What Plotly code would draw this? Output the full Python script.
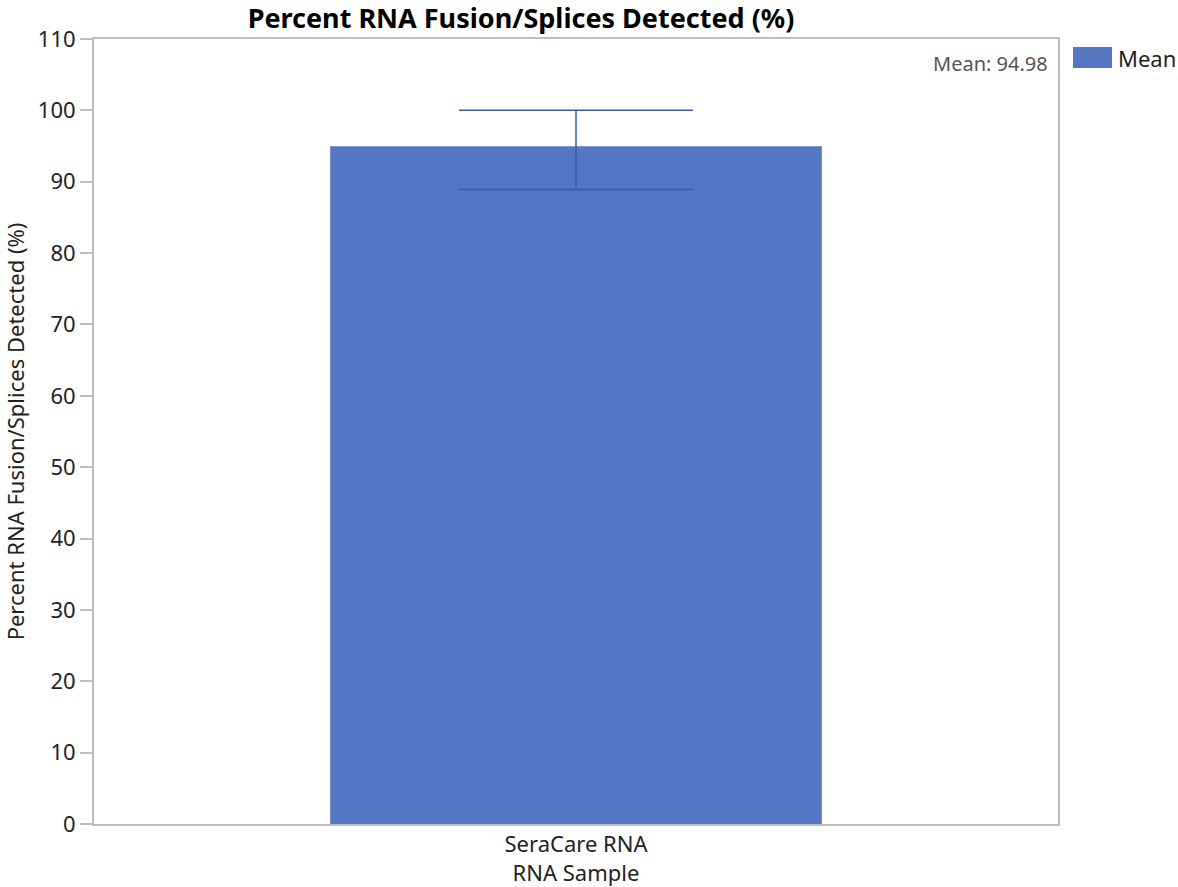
import plotly.graph_objects as go

categories = ["SeraCare RNA"]
means = [94.98]
upper = [100.0]
lower = [88.9]
series_name = "Mean"
y_ticks = [0, 10, 20, 30, 40, 50, 60, 70, 80, 90, 100, 110]

err_plus = [u - m for u, m in zip(upper, means)]
err_minus = [m - l for m, l in zip(means, lower)]

FONT = "Noto Sans"
BAR = "#5577C3"
ERR = "#3E58A6"
GRID = "#BDBDBD"
TXT = "#222222"

W, H = 1178, 887
L, T, PW, PH = 94, 39, 964, 785

fig = go.Figure()
fig.add_trace(go.Bar(
    x=categories, y=means, name=series_name,
    marker=dict(color=BAR, line=dict(width=0)),
    error_y=dict(type="data", symmetric=False, array=err_plus, arrayminus=err_minus,
                 color=ERR, thickness=1.5, width=117),
    showlegend=False,
))

def px(xp):
    return (xp - L) / PW

def py(yp):
    return (T + PH - yp) / PH

# stats annotation
fig.add_annotation(
    xref="paper", yref="paper", x=px(1050), y=py(64), xanchor="right", yanchor="middle",
    text=f"Mean: {means[0]:.2f}", showarrow=False,
    font=dict(family=FONT, size=20, color="#555555"),
)
# legend (key box + label)
fig.add_shape(type="rect", xref="paper", yref="paper",
              x0=px(1073), x1=px(1112), y0=py(68), y1=py(47),
              fillcolor=BAR, line=dict(width=0))
fig.add_annotation(
    xref="paper", yref="paper", x=px(1116), y=py(58), xanchor="left", yanchor="middle",
    text=series_name, showarrow=False,
    font=dict(family=FONT, size=22, color=TXT),
)

fig.update_layout(
    width=W, height=H,
    margin=dict(l=L, r=W - L - PW, t=T, b=H - T - PH),
    paper_bgcolor="white", plot_bgcolor="white",
    title=dict(text="<b>Percent RNA Fusion/Splices Detected (%)</b>",
               x=521 / W, xanchor="center", y=1 - 19 / H, yanchor="middle",
               font=dict(family=FONT, size=27, color="black")),
    bargap=0.49,
    showlegend=False,
    font=dict(family=FONT, size=22, color=TXT),
)
fig.update_yaxes(
    range=[0, 110], tickvals=y_ticks, showgrid=False, zeroline=False,
    showline=True, linecolor=GRID, linewidth=2, mirror=True,
    ticks="outside", ticklen=12, tickcolor=GRID, tickwidth=2,
    tickfont=dict(family=FONT, size=22, color=TXT),
    title=dict(text="Percent RNA Fusion/Splices Detected (%)", standoff=11,
               font=dict(family=FONT, size=22, color=TXT)),
)
fig.update_xaxes(
    showgrid=False, zeroline=False, showline=True, linecolor=GRID, linewidth=2, mirror=True,
    ticks="", tickfont=dict(family=FONT, size=22, color=TXT),
    title=dict(text="RNA Sample", standoff=2,
               font=dict(family=FONT, size=22, color=TXT)),
)

fig.write_html("out.html", config={"displayModeBar": False},
               post_script="document.body.style.margin='0';document.body.style.overflow='hidden';")
